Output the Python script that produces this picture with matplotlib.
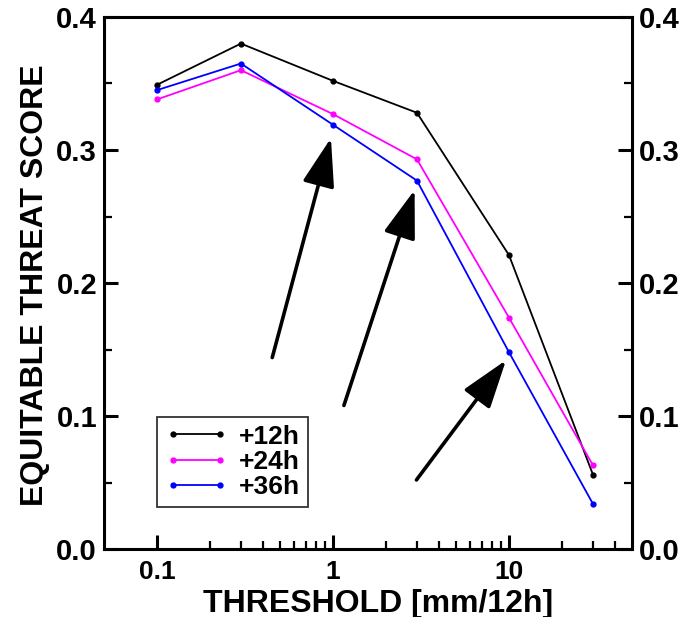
import matplotlib
matplotlib.use("Agg")
import matplotlib.pyplot as plt
from matplotlib.ticker import FixedLocator, NullFormatter, FixedFormatter

thresholds = [0.1, 0.3, 1, 3, 10, 30]
ets_12h = [0.349, 0.380, 0.352, 0.328, 0.221, 0.056]
ets_24h = [0.338, 0.360, 0.327, 0.293, 0.174, 0.063]
ets_36h = [0.345, 0.365, 0.319, 0.277, 0.148, 0.034]
series_labels = ["+12h", "+24h", "+36h"]
series_colors = ["black", "#ff00ff", "#0000ff"]

x_major = [0.1, 1, 10]
x_major_labels = ["0.1", "1", "10"]
x_minor = [0.2, 0.3, 0.4, 0.5, 0.6, 0.7, 0.8, 0.9,
           2, 3, 4, 5, 6, 7, 8, 9, 20, 30, 40]
y_major = [0.0, 0.1, 0.2, 0.3, 0.4]
y_minor = [0.05, 0.15, 0.25, 0.35]

# arrows: (tail_x, tail_y, tip_x, tip_y) in data coordinates
arrows = [
    (0.452, 0.144, 0.974, 0.309),
    (1.154, 0.108, 2.91, 0.270),
    (2.98, 0.052, 9.62, 0.142),
]

plt.rcParams['font.family'] = ['Liberation Sans', 'DejaVu Sans']
plt.rcParams['font.weight'] = 'bold'

fig = plt.figure(figsize=(6.93, 6.17), dpi=100)
ax = fig.add_axes([0.150, 0.110, 0.762, 0.8625])

for vals, lab, col in zip([ets_12h, ets_24h, ets_36h], series_labels, series_colors):
    ax.plot(thresholds, vals, color=col, lw=1.3, marker='o', ms=3.5, label=lab)

ax.set_xscale('log')
ax.set_xlim(0.05, 50)
ax.set_ylim(0.0, 0.4)

ax.xaxis.set_major_locator(FixedLocator(x_major))
ax.xaxis.set_major_formatter(FixedFormatter(x_major_labels))
ax.xaxis.set_minor_locator(FixedLocator(x_minor))
ax.xaxis.set_minor_formatter(NullFormatter())
ax.yaxis.set_major_locator(FixedLocator(y_major))
ax.set_yticklabels([f"{v:.1f}" for v in y_major])
ax.yaxis.set_minor_locator(FixedLocator(y_minor))

for s in ax.spines.values():
    s.set_linewidth(2.2)

ax.tick_params(axis='both', which='major', direction='in', length=10, width=2.2)
ax.tick_params(axis='both', which='minor', direction='in', length=6, width=1.6)
ax.tick_params(axis='x', which='both', top=False, bottom=True)
ax.tick_params(axis='x', which='major', pad=8, labelsize=19)
ax.tick_params(axis='y', which='both', left=True, right=True, labelleft=True, labelright=True)
ax.tick_params(axis='y', which='major', pad=5, labelsize=21)
for t in ax.get_xticklabels() + ax.get_yticklabels():
    t.set_fontweight('bold')

ax.set_xlabel("THRESHOLD [mm/12h]", fontsize=23, fontweight='bold')
ax.xaxis.set_label_coords(0.52, -0.074)
ax.set_ylabel("EQUITABLE THREAT SCORE", fontsize=23, fontweight='bold')
ax.yaxis.set_label_coords(-0.102, 0.496)

for tx, ty, hx, hy in arrows:
    ax.annotate("", xy=(hx, hy), xytext=(tx, ty),
                arrowprops=dict(arrowstyle="-|>,head_length=3.0,head_width=1.0",
                                color='black', lw=2.6, shrinkA=0, shrinkB=0))

leg = ax.legend(loc='lower left', bbox_to_anchor=(0.100, 0.079),
                frameon=True, fancybox=False, edgecolor='black', handlelength=2.4,
                numpoints=2, borderpad=0.3, labelspacing=0.05, handletextpad=0.4,
                borderaxespad=0, prop={'weight': 'bold', 'size': 19})
leg.get_frame().set_linewidth(1.3)

fig.savefig("out.png", dpi=100)
